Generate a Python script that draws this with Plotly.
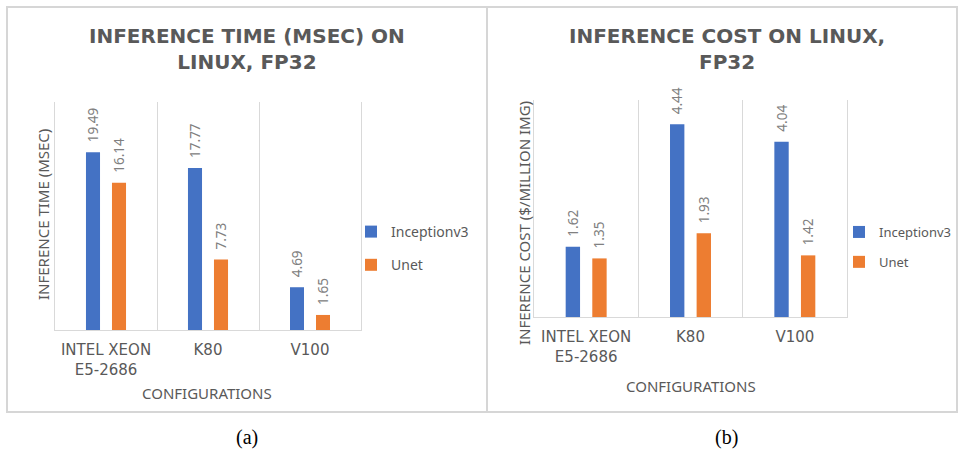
import plotly.graph_objects as go

W, H = 959, 451

categories = ["INTEL XEON<br>E5-2686", "K80", "V100"]
series_names = ["Inceptionv3", "Unet"]
time_inception = [19.49, 17.77, 4.69]
time_unet = [16.14, 7.73, 1.65]
cost_inception = [1.62, 4.44, 4.04]
cost_unet = [1.35, 1.93, 1.42]

colors = ["#4472C4", "#ED7D31"]
GRAY = "#595959"
LABEL_GRAY = "#808080"
GRID = "#d9d9d9"

def px_x(x):
    return x / W

def px_y(y):
    return 1 - y / H

fig = go.Figure()

def add_bars(vals_list, xa, ya, legend):
    for name, vals, col in zip(series_names, vals_list, colors):
        fig.add_trace(go.Bar(
            x=categories, y=vals, name=name, marker=dict(color=col, line=dict(width=0)),
            text=vals, texttemplate="\u00a0\u00a0%{text:.2f}", textposition="outside", textangle=-90,
            textfont=dict(family="Noto Sans", size=13.5, color=LABEL_GRAY),
            cliponaxis=False, constraintext="none",
            xaxis=xa, yaxis=ya, legend=legend, legendgroup=legend + name,
            hoverinfo="skip",
        ))

add_bars([time_inception, time_unet], "x", "y", "legend")
add_bars([cost_inception, cost_unet], "x2", "y2", "legend2")

xcommon = dict(type="category", tickson="boundaries", showgrid=True, gridcolor=GRID, gridwidth=1,
               showline=True, linecolor=GRID, linewidth=1, ticks="",
               tickfont=dict(family="DejaVu Sans", size=15, color=GRAY),
               ticklabelstandoff=6, fixedrange=True)
ycommon = dict(showticklabels=False, showgrid=False, zeroline=False, showline=True, mirror=True,
               linecolor=GRID, linewidth=1, fixedrange=True)

fig.update_layout(
    width=W, height=H, margin=dict(l=0, r=0, t=0, b=0),
    paper_bgcolor="white", plot_bgcolor="white",
    barmode="group", bargap=0.49, bargroupgap=0.46,
    xaxis=dict(domain=[px_x(55), px_x(361)], anchor="y", range=[-0.5, 2.5], **xcommon),
    yaxis=dict(domain=[px_y(330), px_y(102)], anchor="x", range=[0, 25], **ycommon),
    xaxis2=dict(domain=[px_x(534), px_x(847)], anchor="y2", range=[-0.5, 2.5], **xcommon),
    yaxis2=dict(domain=[px_y(317), px_y(100)], anchor="x2", range=[0, 5], **ycommon),
    legend=dict(x=px_x(351), y=px_y(216), xanchor="left", yanchor="top",
                font=dict(family="Noto Sans", size=14, color=GRAY), tracegroupgap=12,
                bgcolor="rgba(0,0,0,0)"),
    legend2=dict(x=px_x(839), y=px_y(217), xanchor="left", yanchor="top",
                 font=dict(family="Noto Sans", size=13, color=GRAY), tracegroupgap=10,
                 bgcolor="rgba(0,0,0,0)"),
    showlegend=True,
)

title_font = dict(family="DejaVu Sans", size=20, color=GRAY)
axis_font = dict(family="Noto Sans", size=15, color=GRAY)
cap_font = dict(family="Liberation Serif", size=20, color="black")
annots = [
    dict(text="<b>INFERENCE TIME (MSEC) ON<br>LINUX, FP32</b>", x=px_x(247), y=px_y(49.5), font=title_font),
    dict(text="<b>INFERENCE COST ON LINUX,<br>FP32</b>", x=px_x(727), y=px_y(49.5), font=title_font),
    dict(text="INFERENCE TIME (MSEC)", x=px_x(43), y=px_y(215), textangle=-90, font=axis_font),
    dict(text="INFERENCE COST ($/MILLION IMG)", x=px_x(524), y=px_y(223), textangle=-90, font=axis_font),
    dict(text="CONFIGURATIONS", x=px_x(207), y=px_y(393), font=axis_font),
    dict(text="CONFIGURATIONS", x=px_x(691), y=px_y(386), font=axis_font),
    dict(text="(a)", x=px_x(247), y=px_y(437), font=cap_font),
    dict(text="(b)", x=px_x(726), y=px_y(437), font=cap_font),
]
for a in annots:
    fig.add_annotation(xref="paper", yref="paper", showarrow=False, xanchor="center", yanchor="middle", **a)

# panel borders
fig.add_shape(type="rect", xref="paper", yref="paper", x0=px_x(7), x1=px_x(487), y0=px_y(412), y1=px_y(7),
              line=dict(color="#d6d6d6", width=2), layer="below")
fig.add_shape(type="rect", xref="paper", yref="paper", x0=px_x(487), x1=px_x(957), y0=px_y(412), y1=px_y(7),
              line=dict(color="#d6d6d6", width=2), layer="below")

fig.write_html("out.html", config={"displayModeBar": False, "staticPlot": True},
               post_script="document.body.style.margin='0';document.body.style.overflow='hidden';")
